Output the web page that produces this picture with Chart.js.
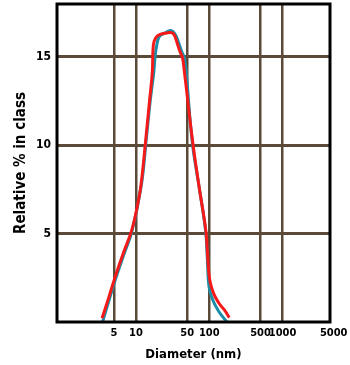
<!DOCTYPE html>
<html>
<head>
<meta charset="utf-8">
<script src="https://cdn.jsdelivr.net/npm/chart.js@4.4.1/dist/chart.umd.min.js"></script>
<style>
  html, body { margin: 0; padding: 0; background: #fff; }
  #wrap { width: 350px; height: 365px; position: relative; }
</style>
</head>
<body>
<div id="wrap"><canvas id="sizeChart"></canvas></div>
<script>
// Diameter (nm) and relative % per class
const redDiameter = [3.45, 4.27, 5.41, 6.85, 8.73, 10.32, 11.71, 13.58, 15.36, 16.72, 17.26, 18.62, 21.32, 26.34, 30.83, 33.47, 36.10, 40.06, 43.07, 45.87, 59.5, 72.8, 89.9, 95.8, 101.7, 114.6, 135.9, 161.0, 187.6];
const redPercent = [0.21, 1.41, 2.76, 3.99, 5.17, 6.45, 7.75, 10.3, 12.56, 14.15, 15.66, 16.09, 16.28, 16.36, 16.37, 16.23, 15.85, 15.28, 14.98, 14.15, 10.19, 7.64, 5.17, 3.51, 2.38, 1.62, 1.06, 0.68, 0.25];

const blueDiameter = [3.50, 4.34, 5.49, 6.96, 8.87, 11.86, 13.80, 15.70, 17.53, 18.21, 19.21, 20.66, 23.66, 27.70, 30.16, 32.43, 34.99, 37.97, 42.27, 45.45, 48.42, 58.6, 72.8, 89.1, 94.4, 99.2, 111.9, 131.3, 151.9, 174.2];
const bluePercent = [0, 1.30, 2.66, 3.90, 5.17, 7.75, 10.3, 12.56, 14.15, 14.98, 15.66, 16.13, 16.32, 16.47, 16.49, 16.41, 16.22, 15.85, 15.28, 14.98, 14.15, 10.19, 7.64, 5.17, 3.51, 2.0, 1.25, 0.68, 0.3, 0];

const xTicks = [5, 10, 50, 100, 500, 1000, 5000];
const yTicks = [5, 10, 15];

const FONT = "'DejaVu Sans Condensed', 'DejaVu Sans', sans-serif";
const GRID = "#5b4a38";

function toPoints(xs, ys) {
  return xs.map((x, i) => ({ x, y: ys[i] }));
}

// black box round the plot area
const frame = {
  id: "frame",
  afterDatasetsDraw(chart) {
    const { ctx, chartArea: a } = chart;
    ctx.save();
    ctx.strokeStyle = "#000";
    ctx.lineWidth = 3;
    ctx.strokeRect(a.left, a.top, a.right - a.left, a.bottom - a.top);
    ctx.restore();
  },
};

const ctx = document.getElementById("sizeChart").getContext("2d");
new Chart(ctx, {
  type: "line",
  data: {
    datasets: [
      {
        data: toPoints(redDiameter, redPercent),
        borderColor: "#f51a1a",
        borderWidth: 3,
        pointRadius: 0,
        tension: 0.4,
      },
      {
        data: toPoints(blueDiameter, bluePercent),
        borderColor: "#1c8ea8",
        borderWidth: 3,
        pointRadius: 0,
        tension: 0.4,
      },
    ],
  },
  options: {
    responsive: true,
    maintainAspectRatio: false,
    animation: false,
    layout: { padding: { top: 4, right: 20, left: 0, bottom: 0 } },
    plugins: { legend: { display: false }, tooltip: { enabled: false } },
    scales: {
      x: {
        type: "logarithmic",
        min: 0.837,
        max: 4446,
        afterBuildTicks: (s) => { s.ticks = xTicks.map((v) => ({ value: v })); },
        afterFit: (s) => { s.height = 43; s.paddingLeft = 0; s.paddingRight = 0; },
        grid: {
          // the 5000 label sits just past the frame, so no line for it
          color: (c) => (c.tick && c.tick.value > c.scale.max ? "rgba(0,0,0,0)" : GRID),
          lineWidth: 2.5,
          drawTicks: false,
        },
        border: { display: false },
        ticks: {
          padding: 5,
          color: "#000",
          maxRotation: 0,
          autoSkip: false,
          font: { family: FONT, size: 11, weight: "bold" },
          callback: (v) => String(v),
        },
        title: {
          display: true,
          text: "Diameter (nm)",
          color: "#000",
          font: { family: FONT, size: 13, weight: "bold", lineHeight: 1.2 },
          padding: { top: 0, bottom: 3 },
        },
      },
      y: {
        min: 0,
        max: 18,
        afterBuildTicks: (s) => { s.ticks = yTicks.map((v) => ({ value: v })); },
        afterFit: (s) => { s.width = 57; s.paddingTop = 0; s.paddingBottom = 0; },
        grid: { color: GRID, lineWidth: 3, drawTicks: false },
        border: { display: false },
        ticks: {
          padding: 6,
          color: "#000",
          font: { family: FONT, size: 12, weight: "bold" },
        },
        title: {
          display: true,
          text: "Relative % in class",
          color: "#000",
          font: { family: FONT, size: 15, weight: "bold", lineHeight: 1.2 },
          padding: { top: 12, bottom: 0 },
        },
      },
    },
  },
  plugins: [frame],
});
</script>
</body>
</html>
